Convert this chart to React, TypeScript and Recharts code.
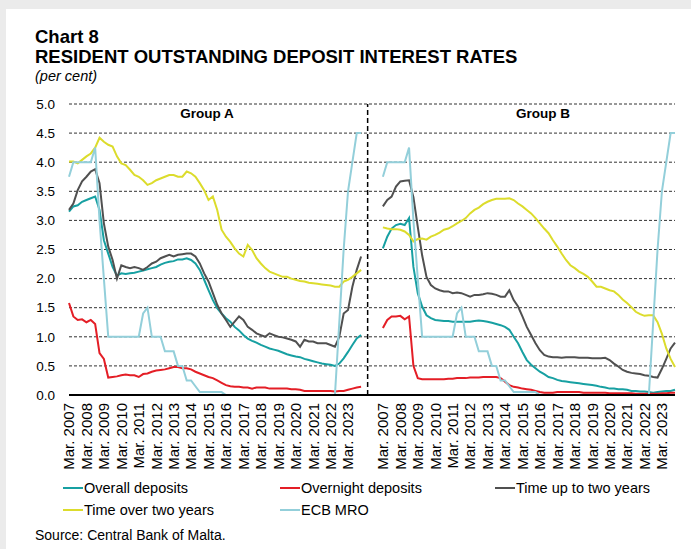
import React from "react";
import {
  LineChart,
  Line,
  XAxis,
  YAxis,
  CartesianGrid,
  ReferenceLine,
} from "recharts";

// quarterly observations, Mar. 2007 .. Dec. 2023 (68 per group)
const years = [
  2007, 2008, 2009, 2010, 2011, 2012, 2013, 2014, 2015, 2016, 2017, 2018,
  2019, 2020, 2021, 2022, 2023,
];
const months = ["Mar.", "Jun.", "Sep.", "Dec."];
const tickLabels = years.map((y) => `Mar. ${y}`);

// Group B sits this many quarters to the right of Group A
const groupBOffset = 72;

const ecbMro = [
  3.75, 4.0, 4.0, 4.0, 4.0, 4.0, 4.25, 3.0, 2.0, 1.0, 1.0, 1.0, 1.0, 1.0, 1.0,
  1.0, 1.0, 1.4, 1.5, 1.0, 1.0, 1.0, 0.75, 0.75, 0.75, 0.5, 0.5, 0.25, 0.25,
  0.15, 0.05, 0.05, 0.05, 0.05, 0.05, 0.05, 0, 0, 0, 0, 0, 0, 0, 0, 0, 0, 0,
  0, 0, 0, 0, 0, 0, 0, 0, 0, 0, 0, 0, 0, 0, 0, 1.25, 2.5, 3.5, 4.0, 4.5, 4.5,
];

const aOverall = [
  3.15, 3.24, 3.26, 3.32, 3.35, 3.38, 3.41, 3.18, 2.66, 2.43, 2.2, 2.05, 2.09,
  2.08, 2.09, 2.1, 2.12, 2.14, 2.16, 2.18, 2.2, 2.24, 2.27, 2.29, 2.3, 2.33,
  2.33, 2.35, 2.32, 2.26, 2.15, 1.98, 1.8, 1.63, 1.49, 1.4, 1.32, 1.26, 1.17,
  1.11, 1.03, 0.97, 0.93, 0.9, 0.86, 0.83, 0.8, 0.78, 0.76, 0.73, 0.7, 0.68,
  0.66, 0.65, 0.62, 0.6, 0.58, 0.56, 0.54, 0.53, 0.52, 0.5, 0.54, 0.63, 0.74,
  0.86, 0.97, 1.03,
];
const aOvernight = [
  1.58, 1.35, 1.29, 1.3, 1.25, 1.29, 1.22, 0.72, 0.62, 0.3, 0.31, 0.32, 0.34,
  0.35, 0.34, 0.34, 0.31, 0.36, 0.37, 0.4, 0.42, 0.43, 0.44, 0.46, 0.48, 0.48,
  0.46, 0.46, 0.44, 0.4, 0.37, 0.34, 0.31, 0.29, 0.25, 0.21, 0.17, 0.15, 0.14,
  0.14, 0.13, 0.13, 0.11, 0.13, 0.13, 0.13, 0.11, 0.11, 0.11, 0.11, 0.11, 0.1,
  0.1, 0.09, 0.07, 0.07, 0.07, 0.07, 0.07, 0.07, 0.07, 0.06, 0.07, 0.07, 0.09,
  0.11, 0.13, 0.14,
];
const aUpToTwo = [
  3.18, 3.29, 3.52, 3.67, 3.75, 3.84, 3.88, 3.64, 2.95, 2.55, 2.32, 2.0, 2.23,
  2.2, 2.18, 2.2, 2.18, 2.15, 2.2, 2.26, 2.29, 2.35, 2.38, 2.41, 2.38, 2.41,
  2.42, 2.43, 2.43, 2.38, 2.26, 2.09, 1.95, 1.75, 1.55, 1.4, 1.29, 1.17, 1.26,
  1.35, 1.29, 1.17, 1.12, 1.06, 1.03, 1.0, 1.06, 1.03, 1.0, 0.99, 0.97, 0.95,
  0.92, 0.83, 0.95, 0.92, 0.92, 0.89, 0.89, 0.89, 0.86, 0.83, 1.0, 1.4, 1.46,
  1.86, 2.15, 2.38,
];
const aOverTwo = [
  4.01, 4.01, 3.98, 4.04, 4.1, 4.15, 4.25, 4.42, 4.35, 4.3, 4.27, 4.1, 3.98,
  3.95, 3.87, 3.78, 3.75, 3.69, 3.61, 3.64, 3.69, 3.72, 3.75, 3.78, 3.78, 3.75,
  3.75, 3.84, 3.81, 3.75, 3.64, 3.52, 3.35, 3.41, 3.18, 2.84, 2.72, 2.63, 2.52,
  2.43, 2.38, 2.58, 2.49, 2.35, 2.26, 2.18, 2.12, 2.09, 2.06, 2.03, 2.03, 2.0,
  1.98, 1.96, 1.95, 1.93, 1.92, 1.91, 1.9, 1.89, 1.88, 1.86, 1.86, 1.95, 1.98,
  2.03, 2.09, 2.15,
];

const bOverall = [
  2.52, 2.72, 2.86, 2.92, 2.94, 2.92, 3.04, 2.2, 1.75, 1.52, 1.37, 1.32, 1.29,
  1.28, 1.27, 1.27, 1.26, 1.26, 1.26, 1.26, 1.26, 1.27, 1.28, 1.27, 1.26, 1.24,
  1.22, 1.2, 1.17, 1.12, 1.0, 0.89, 0.74, 0.6, 0.52, 0.46, 0.4, 0.36, 0.31,
  0.29, 0.26, 0.24, 0.23, 0.22, 0.21, 0.2, 0.19, 0.18, 0.17, 0.16, 0.14, 0.13,
  0.11, 0.11, 0.1, 0.1, 0.09, 0.07, 0.07, 0.06, 0.06, 0.05, 0.04, 0.05, 0.06,
  0.07, 0.07, 0.09,
];
const bOvernight = [
  1.15, 1.29, 1.35, 1.35, 1.36, 1.3, 1.35, 0.5, 0.29, 0.27, 0.27, 0.27, 0.27,
  0.27, 0.27, 0.28, 0.28, 0.29, 0.29, 0.29, 0.3, 0.3, 0.3, 0.31, 0.31, 0.31,
  0.31, 0.29, 0.23, 0.17, 0.14, 0.13, 0.11, 0.1, 0.09, 0.07, 0.05, 0.04, 0.04,
  0.04, 0.05, 0.05, 0.05, 0.05, 0.05, 0.05, 0.04, 0.04, 0.04, 0.04, 0.04, 0.04,
  0.03, 0.03, 0.03, 0.03, 0.03, 0.03, 0.02, 0.02, 0.02, 0.02, 0.02, 0.02, 0.03,
  0.03, 0.04, 0.04,
];
const bUpToTwo = [
  3.24, 3.35, 3.41, 3.58, 3.67, 3.68, 3.69, 3.4, 2.89, 2.4, 2.03, 1.89, 1.83,
  1.8, 1.78, 1.78, 1.75, 1.76, 1.75, 1.72, 1.69, 1.72, 1.72, 1.73, 1.75, 1.74,
  1.72, 1.69, 1.69, 1.8, 1.63, 1.52, 1.35, 1.17, 1.03, 0.89, 0.77, 0.69, 0.66,
  0.65, 0.65, 0.64, 0.65, 0.65, 0.65, 0.64, 0.64, 0.64, 0.63, 0.63, 0.63, 0.64,
  0.6, 0.54, 0.49, 0.43, 0.4, 0.38, 0.37, 0.36, 0.34, 0.33, 0.31, 0.3, 0.45,
  0.62, 0.8, 0.9,
];
const bOverTwo = [
  2.88, 2.86, 2.85, 2.85, 2.84, 2.81, 2.75, 2.64, 2.68, 2.69, 2.67, 2.72, 2.75,
  2.79, 2.84, 2.86, 2.9, 2.95, 2.99, 3.04, 3.12, 3.18, 3.22, 3.28, 3.32, 3.35,
  3.37, 3.37, 3.37, 3.38, 3.35, 3.29, 3.24, 3.18, 3.12, 3.04, 2.95, 2.86, 2.78,
  2.66, 2.55, 2.43, 2.32, 2.23, 2.18, 2.12, 2.08, 2.03, 1.95, 1.86, 1.86, 1.83,
  1.8, 1.78, 1.72, 1.64, 1.58, 1.51, 1.43, 1.39, 1.36, 1.37, 1.37, 1.25, 1.05,
  0.8, 0.62, 0.48,
];

const COLORS = {
  overall: "#17A0A2",
  overnight: "#E41E26",
  upToTwo: "#505050",
  overTwo: "#DCDC2C",
  ecb: "#93CFDA",
};

const quarters = years.flatMap((y) => months.map((m) => `${m} ${y}`));

const data = [
  ...quarters.map((q, i) => ({
    x: i,
    period: q,
    aOverall: aOverall[i],
    aOvernight: aOvernight[i],
    aUpToTwo: aUpToTwo[i],
    aOverTwo: aOverTwo[i],
    aEcb: ecbMro[i],
  })),
  ...quarters.map((q, i) => ({
    x: groupBOffset + i,
    period: q,
    bOverall: bOverall[i],
    bOvernight: bOvernight[i],
    bUpToTwo: bUpToTwo[i],
    bOverTwo: bOverTwo[i],
    bEcb: ecbMro[i],
  })),
];

const xTicks = [
  ...years.map((_, k) => k * 4),
  ...years.map((_, k) => groupBOffset + k * 4),
];

const legendItems = [
  { name: "Overall deposits", color: COLORS.overall, col: 0, row: 0 },
  { name: "Overnight deposits", color: COLORS.overnight, col: 1, row: 0 },
  { name: "Time up to two years", color: COLORS.upToTwo, col: 2, row: 0 },
  { name: "Time over two years", color: COLORS.overTwo, col: 0, row: 1 },
  { name: "ECB MRO", color: COLORS.ecb, col: 1, row: 1 },
];
const legendCols = [63, 280, 495];

const FONT = "'Liberation Sans', Arial, Helvetica, sans-serif";

const XTick = (props: any) => {
  const { x, y, payload } = props;
  const v = payload.value as number;
  const k = (v >= groupBOffset ? v - groupBOffset : v) / 4;
  return (
    <text
      x={x}
      y={y}
      transform={`rotate(-90, ${x}, ${y})`}
      textAnchor="end"
      dy="0.36em"
      fontSize={15}
      fontFamily={FONT}
      fill="#000"
    >
      {tickLabels[k]}
    </text>
  );
};

const series = ["Overall", "Overnight", "UpToTwo", "OverTwo", "Ecb"];
const seriesColor: Record<string, string> = {
  Overall: COLORS.overall,
  Overnight: COLORS.overnight,
  UpToTwo: COLORS.upToTwo,
  OverTwo: COLORS.overTwo,
  Ecb: COLORS.ecb,
};

export default function App() {
  return (
    <div
      style={{
        position: "relative",
        width: 691,
        height: 549,
        background: "#ebebeb",
        fontFamily: FONT,
        color: "#000",
        overflow: "hidden",
      }}
    >
      <style>{`body{margin:0}`}</style>
      <div
        style={{
          position: "absolute",
          left: 6,
          top: 9,
          right: 0,
          bottom: 0,
          background: "#fff",
        }}
      />
      <div
        style={{
          position: "absolute",
          left: 35,
          top: 27,
          fontSize: 18.5,
          fontWeight: "bold",
          lineHeight: "20px",
          whiteSpace: "nowrap",
        }}
      >
        Chart 8
        <br />
        RESIDENT OUTSTANDING DEPOSIT INTEREST RATES
      </div>
      <div
        style={{
          position: "absolute",
          left: 35,
          top: 68,
          fontSize: 14.5,
          fontStyle: "italic",
          lineHeight: "16px",
        }}
      >
        (per cent)
      </div>

      <div style={{ position: "absolute", left: 0, top: 0 }}>
        <LineChart
          width={691}
          height={480}
          data={data}
          margin={{ top: 104, right: 16, bottom: 15, left: 29 }}
        >
          <CartesianGrid
            horizontal
            vertical={false}
            stroke="#333"
            strokeDasharray="3 2"
          />
          <XAxis
            dataKey="x"
            type="number"
            domain={[0, 139]}
            ticks={xTicks}
            interval={0}
            height={70}
            tick={<XTick />}
            tickLine={false}
            axisLine={{ stroke: "#000", strokeWidth: 2 }}
          />
          <YAxis
            type="number"
            domain={[0, 5]}
            ticks={[0, 0.5, 1, 1.5, 2, 2.5, 3, 3.5, 4, 4.5, 5]}
            tickFormatter={(v: number) => v.toFixed(1)}
            width={40}
            axisLine={false}
            tickLine={false}
            tickSize={6}
            tickMargin={8}
            tick={{ fill: "#000", fontSize: 13.5, fontFamily: FONT }}
          />
          <ReferenceLine
            x={68.5}
            stroke="#000"
            strokeWidth={1.5}
            strokeDasharray="5 3"
          />
          {["a", "b"].flatMap((g) =>
            series.map((s) => (
              <Line
                key={g + s}
                dataKey={g + s}
                stroke={seriesColor[s]}
                strokeWidth={2}
                dot={false}
                activeDot={false}
                type="linear"
                isAnimationActive={false}
              />
            ))
          )}
        </LineChart>
      </div>

      <div
        style={{
          position: "absolute",
          left: 157,
          top: 106,
          width: 100,
          textAlign: "center",
          fontSize: 13.5,
          fontWeight: "bold",
        }}
      >
        Group A
      </div>
      <div
        style={{
          position: "absolute",
          left: 493,
          top: 106,
          width: 100,
          textAlign: "center",
          fontSize: 13.5,
          fontWeight: "bold",
        }}
      >
        Group B
      </div>

      {legendItems.map((it) => (
        <div
          key={it.name}
          style={{
            position: "absolute",
            left: legendCols[it.col],
            top: 479 + it.row * 22,
            height: 18,
            display: "flex",
            alignItems: "center",
            fontSize: 14.5,
            whiteSpace: "nowrap",
          }}
        >
          <span
            style={{
              display: "inline-block",
              width: 20,
              height: 2.5,
              background: it.color,
              marginRight: 1,
            }}
          />
          {it.name}
        </div>
      ))}

      <div
        style={{
          position: "absolute",
          left: 35,
          top: 527,
          fontSize: 14,
          lineHeight: "16px",
        }}
      >
        Source: Central Bank of Malta.
      </div>
    </div>
  );
}
